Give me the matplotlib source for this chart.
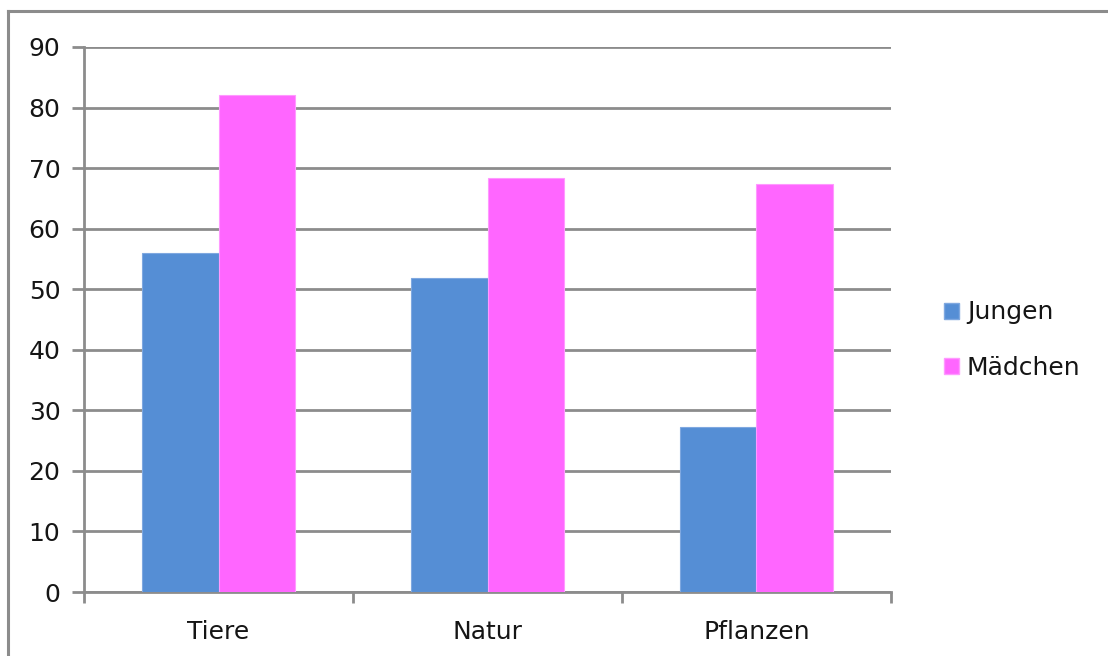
import matplotlib
matplotlib.use("Agg")
import matplotlib.pyplot as plt
from matplotlib.lines import Line2D
from matplotlib.patches import Patch
import numpy as np

categories = ["Tiere", "Natur", "Pflanzen"]
jungen = [56, 51.8, 27.2]
maedchen = [82, 68.3, 67.4]
series_names = ["Jungen", "Mädchen"]
y_ticks = [0, 10, 20, 30, 40, 50, 60, 70, 80, 90]

blue = "#558ED5"
pink = "#FF66FF"
grey = "#8C8C8C"
text_col = "#151515"

plt.rcParams["font.family"] = ["DejaVu Sans"]

W, H = 1108, 656
fig = plt.figure(figsize=(W / 100, H / 100), dpi=100)

# outer frame: left and top edges only
fx, fy = 8 / W, 1 - 10.5 / H
fig.add_artist(Line2D([fx, fx], [-0.1, fy], transform=fig.transFigure,
                      color=grey, linewidth=2.2, solid_capstyle="projecting"))
fig.add_artist(Line2D([fx, 1.1], [fy, fy], transform=fig.transFigure,
                      color=grey, linewidth=2.2, solid_capstyle="projecting"))

ax = fig.add_axes([84 / W, 1 - 592 / H, (891 - 84) / W, (592 - 47) / H])

x = np.arange(len(categories))
bw = 0.286
ax.bar(x - bw / 2, jungen, bw, color=blue, edgecolor="#7FA8E0", linewidth=0.8, zorder=3)
ax.bar(x + bw / 2, maedchen, bw, color=pink, edgecolor="#FF99FF", linewidth=0.8, zorder=3)

ax.set_xlim(-0.5, len(categories) - 0.5)
ax.set_ylim(0, 90)
ax.set_yticks(y_ticks)
ax.yaxis.grid(True, color=grey, linewidth=2.0, zorder=1)
ax.set_axisbelow(True)

for s in ["top", "right"]:
    ax.spines[s].set_visible(False)
for s in ["left", "bottom"]:
    ax.spines[s].set_color(grey)
    ax.spines[s].set_linewidth(2.0)

ax.tick_params(axis="y", length=9, width=2, color=grey, labelsize=18, pad=8,
               labelcolor=text_col)
# category boundaries as ticks, labels at centers
ax.set_xticks(np.arange(-0.5, len(categories), 1.0))
ax.set_xticklabels([])
ax.tick_params(axis="x", which="major", length=8, width=2, color=grey)
ax.set_xticks(x, minor=True)
ax.set_xticklabels(categories, minor=True)
ax.tick_params(axis="x", which="minor", length=0, labelsize=18, pad=20,
               labelcolor=text_col)

handles = [Patch(facecolor=blue, edgecolor="#7FA8E0"),
           Patch(facecolor=pink, edgecolor="#FF99FF")]
fig.legend(handles, series_names, loc="center left",
           bbox_to_anchor=(922 / W, 1 - 340 / H), frameon=False,
           fontsize=18, handlelength=0.6, handleheight=0.6,
           handletextpad=0.3, labelspacing=1.25, labelcolor=text_col)

fig.savefig("out.png", dpi=100)
